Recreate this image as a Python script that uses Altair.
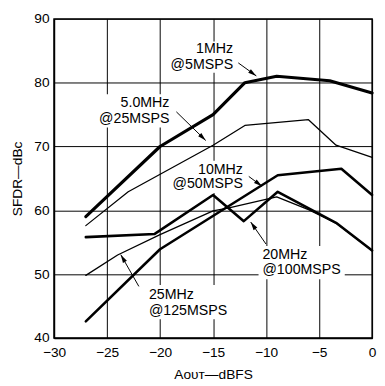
import math
import altair as alt
import pandas as pd

# ---- data ----
s1_x = [-27, -20, -15, -12, -9, -4, 0]
s1_y = [59.0, 70.0, 75.0, 80.0, 81.0, 80.3, 78.4]

s2_x = [-27, -23, -15, -12, -6, -3.4, 0]
s2_y = [57.6, 62.9, 70.2, 73.3, 74.2, 70.2, 68.3]

s3_x = [-27, -20, -8.9, -2.9, 0]
s3_y = [42.6, 53.9, 65.5, 66.5, 62.4]

s4_x = [-27, -20.5, -15, -12.1, -8.9, -3.4, 0]
s4_y = [55.8, 56.3, 62.4, 58.3, 62.9, 58.05, 53.7]

s5_x = [-27, -24, -20, -15, -13.5, -9, -6, -3.4, 0]
s5_y = [49.8, 53.0, 56.2, 59.9, 60.4, 62.1, 60.1, 58.0, 53.7]

series_names = ["1MHz@5MSPS", "5.0MHz@25MSPS", "10MHz@50MSPS", "20MHz@100MSPS", "25MHz@125MSPS"]
series_widths = [3.2, 1.3, 2.6, 2.6, 1.3]

lab_text = ["1MHz", "@5MSPS", "5.0MHz", "@25MSPS", "10MHz", "@50MSPS",
            "20MHz", "@100MSPS", "25MHz", "@125MSPS"]
lab_x = [-13.11, -13.11, -19.11, -19.11, -12.18, -12.18, -10.34, -10.34, -21.05, -21.05]
lab_y = [85.25, 82.8, 76.81, 74.28, 66.38, 64.08, 52.96, 50.66, 46.67, 44.14]
lab_side = ["right"] * 6 + ["left"] * 4

box_x1 = [-19.48, -25.85, -18.92, -10.71, -21.2]
box_x2 = [-12.83, -18.83, -11.91, -2.58, -13.29]
box_y1 = [86.47, 78.19, 67.76, 54.42, 48.28]
box_y2 = [81.56, 72.98, 62.7, 49.2, 42.91]

arr_x1 = [-12.62, -18.46, -11.63, -10.01, -22.0]
arr_y1 = [83.1, 75.43, 65.31, 54.72, 48.08]
arr_x2 = [-10.92, -15.69, -10.38, -11.45, -23.7]
arr_y2 = [81.06, 70.94, 63.77, 58.17, 53.04]

x_ticks = [-30, -25, -20, -15, -10, -5, 0]
y_ticks = [40, 50, 60, 70, 80, 90]

W, H = 325, 326
FONT = "Liberation Sans"

# ---- tables ----
rows = []
for name, w, xs, ys in zip(series_names, series_widths,
                            [s1_x, s2_x, s3_x, s4_x, s5_x],
                            [s1_y, s2_y, s3_y, s4_y, s5_y]):
    for i, (xv, yv) in enumerate(zip(xs, ys)):
        rows.append({"series": name, "x": xv, "y": yv, "w": w, "o": i})
lines_df = pd.DataFrame(rows)

labels_df = pd.DataFrame({"t": lab_text, "x": lab_x, "y": lab_y, "side": lab_side})
boxes_df = pd.DataFrame({"x": box_x1, "x2": box_x2, "y": box_y1, "y2": box_y2})

angles = []
for a, b, c, d in zip(arr_x1, arr_y1, arr_x2, arr_y2):
    dx = (c - a) * W / 30.0
    dy = -(d - b) * H / 50.0
    angles.append(math.degrees(math.atan2(dx, -dy)) % 360)
arrows_df = pd.DataFrame({"x": arr_x1, "y": arr_y1, "x2": arr_x2, "y2": arr_y2, "ang": angles})

xs = alt.Scale(domain=[-30, 0], nice=False, zero=False)
ys = alt.Scale(domain=[40, 90], nice=False, zero=False)

x_axis = alt.Axis(values=x_ticks, grid=True, gridColor="black", gridWidth=1, gridOpacity=1,
                  ticks=False, labelFontSize=14, labelColor="black", labelFont=FONT,
                  labelPadding=8, labelFlush=False, domainColor="black", domainWidth=1.5,
                  title="Aᴏᴜᴛ—dBFS", titleFont=FONT, titleFontSize=14, titleFontWeight="normal",
                  titleColor="black", titleX=W / 2, titleY=37, titleAlign="center",
                  titleBaseline="middle")
y_axis = alt.Axis(values=y_ticks, grid=True, gridColor="black", gridWidth=1, gridOpacity=1,
                  ticks=False, labelFontSize=14, labelColor="black", labelFont=FONT,
                  labelPadding=5, labelFlush=False, domainColor="black", domainWidth=1.5,
                  title="SFDR—dBc", titleFont=FONT, titleFontSize=14, titleFontWeight="normal",
                  titleColor="black", titleX=-37, titleY=H / 2, titleAngle=270,
                  titleAlign="center", titleBaseline="middle")

boxes = alt.Chart(boxes_df).mark_rect(fill="white", stroke=None).encode(
    x=alt.X("x:Q", scale=xs, axis=x_axis), x2="x2:Q",
    y=alt.Y("y:Q", scale=ys, axis=y_axis), y2="y2:Q")

lines = alt.Chart(lines_df).mark_line(color="black", strokeCap="round", strokeJoin="round").encode(
    x=alt.X("x:Q", scale=xs), y=alt.Y("y:Q", scale=ys),
    detail="series:N", order="o:Q",
    strokeWidth=alt.StrokeWidth("w:Q", scale=None))

shafts = alt.Chart(arrows_df).mark_rule(color="black", strokeWidth=1).encode(
    x=alt.X("x:Q", scale=xs), y=alt.Y("y:Q", scale=ys), x2="x2:Q", y2="y2:Q")

heads = alt.Chart(arrows_df).mark_point(
    shape="M0,0L-0.6,2.2L0.6,2.2Z", filled=True, fill="black", stroke=None,
    size=60, opacity=1).encode(
    x=alt.X("x2:Q", scale=xs), y=alt.Y("y2:Q", scale=ys),
    angle=alt.Angle("ang:Q", scale=None))

text_r = alt.Chart(labels_df).transform_filter(alt.datum.side == "right").mark_text(
    align="right", baseline="middle", font=FONT, fontSize=14.5, color="black").encode(
    x=alt.X("x:Q", scale=xs), y=alt.Y("y:Q", scale=ys), text="t:N")
text_l = alt.Chart(labels_df).transform_filter(alt.datum.side == "left").mark_text(
    align="left", baseline="middle", font=FONT, fontSize=14.5, color="black").encode(
    x=alt.X("x:Q", scale=xs), y=alt.Y("y:Q", scale=ys), text="t:N")

chart = alt.layer(boxes, lines, shafts, heads, text_r, text_l).properties(
    width=W, height=H,
    autosize=alt.AutoSizeParams(type="none"),
    padding={"left": 47, "top": 7, "right": 5, "bottom": 45},
    background="white",
).configure_view(stroke="black", strokeWidth=1.5)

chart.save("out.html", embed_options={"renderer": "svg", "actions": False})
